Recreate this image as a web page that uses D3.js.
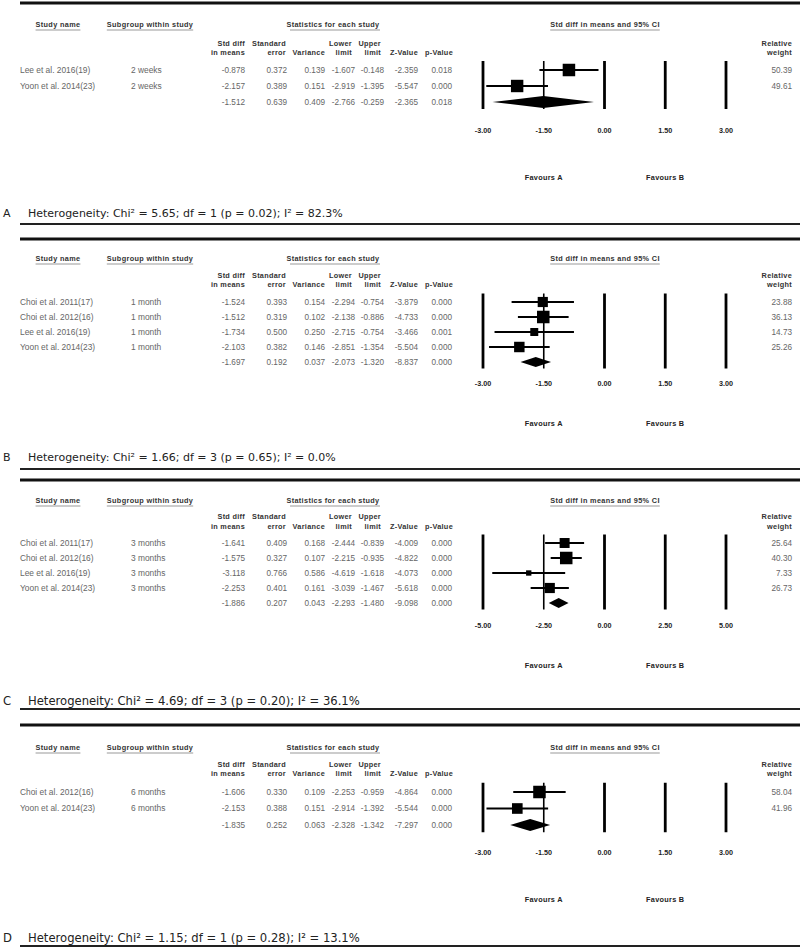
<!DOCTYPE html>
<html><head><meta charset="utf-8">
<script src="https://cdn.jsdelivr.net/npm/d3@7/dist/d3.min.js"></script>
<style>body{margin:0;background:#fff}svg{display:block}</style>
</head><body>
<svg id="chart" width="800" height="948"></svg>
<script>
// ---------------- DATA ----------------
const panelLabels = ["A", "B", "C", "D"];
const studyNames = [
  ["Lee et al. 2016(19)", "Yoon et al. 2014(23)"],
  ["Choi et al. 2011(17)", "Choi et al. 2012(16)", "Lee et al. 2016(19)", "Yoon et al. 2014(23)"],
  ["Choi et al. 2011(17)", "Choi et al. 2012(16)", "Lee et al. 2016(19)", "Yoon et al. 2014(23)"],
  ["Choi et al. 2012(16)", "Yoon et al. 2014(23)"]
];
const subgroups = ["2 weeks", "1 month", "3 months", "6 months"];
// last value of each list = pooled (summary) row
const stdDiff = [
  [-0.878, -2.157, -1.512],
  [-1.524, -1.512, -1.734, -2.103, -1.697],
  [-1.641, -1.575, -3.118, -2.253, -1.886],
  [-1.606, -2.153, -1.835]
];
const stdErr = [
  [0.372, 0.389, 0.639],
  [0.393, 0.319, 0.500, 0.382, 0.192],
  [0.409, 0.327, 0.766, 0.401, 0.207],
  [0.330, 0.388, 0.252]
];
const variance = [
  [0.139, 0.151, 0.409],
  [0.154, 0.102, 0.250, 0.146, 0.037],
  [0.168, 0.107, 0.586, 0.161, 0.043],
  [0.109, 0.151, 0.063]
];
const lowerLimit = [
  [-1.607, -2.919, -2.766],
  [-2.294, -2.138, -2.715, -2.851, -2.073],
  [-2.444, -2.215, -4.619, -3.039, -2.293],
  [-2.253, -2.914, -2.328]
];
const upperLimit = [
  [-0.148, -1.395, -0.259],
  [-0.754, -0.886, -0.754, -1.354, -1.320],
  [-0.839, -0.935, -1.618, -1.467, -1.480],
  [-0.959, -1.392, -1.342]
];
const zValue = [
  [-2.359, -5.547, -2.365],
  [-3.879, -4.733, -3.466, -5.504, -8.837],
  [-4.009, -4.822, -4.073, -5.618, -9.098],
  [-4.864, -5.544, -7.297]
];
const pValue = [
  [0.018, 0.000, 0.018],
  [0.000, 0.000, 0.001, 0.000, 0.000],
  [0.000, 0.000, 0.000, 0.000, 0.000],
  [0.000, 0.000, 0.000]
];
const relWeight = [
  [50.39, 49.61],
  [23.88, 36.13, 14.73, 25.26],
  [25.64, 40.30, 7.33, 26.73],
  [58.04, 41.96]
];
const axisTicks = [
  [-3, -1.5, 0, 1.5, 3],
  [-3, -1.5, 0, 1.5, 3],
  [-5, -2.5, 0, 2.5, 5],
  [-3, -1.5, 0, 1.5, 3]
];
const heterogeneity = [
  "Heterogeneity: Chi² = 5.65; df = 1 (p = 0.02); I² = 82.3%",
  "Heterogeneity: Chi² = 1.66; df = 3 (p = 0.65); I² = 0.0%",
  "Heterogeneity: Chi² = 4.69; df = 3 (p = 0.20); I² = 36.1%",
  "Heterogeneity: Chi² = 1.15; df = 1 (p = 0.28); I² = 13.1%"
];
const favourLabels = ["Favours A", "Favours B"];

// ---------------- LAYOUT ----------------
const layout = [
  {y0: 3,   header: 24,  h1: 43,  h2: 52,  row0: 70,  step: 16,   tickY: 130, favY: 177, hetY: 213, ulY: 224, hetSize: 11,   dia: 12},
  {y0: 239, header: 258, h1: 275, h2: 284, row0: 302, step: 15,   tickY: 383, favY: 423, hetY: 457, ulY: 469, hetSize: 11,   dia: 10},
  {y0: 480, header: 500, h1: 516, h2: 526, row0: 543, step: 15,   tickY: 625, favY: 665, hetY: 701, ulY: 709, hetSize: 11.6, dia: 10},
  {y0: 725, header: 747, h1: 764, h2: 773, row0: 792, step: 16.5, tickY: 852, favY: 899, hetY: 938, ulY: 946, hetSize: 11.6, dia: 12}
];

const locale = d3.formatLocale({decimal: ".", thousands: ",", grouping: [3], currency: ["", ""], minus: "-"});
const f3 = locale.format(".3f"), f2 = locale.format(".2f");

const svg = d3.select("#chart");
const TAB = "'Liberation Sans', Arial, sans-serif";
const HET = "'DejaVu Sans', Verdana, sans-serif";

const columns = [
  {h: ["Std diff", "in means"], hx: 245, x: 245, v: stdDiff},
  {h: ["Standard", "error"], hx: 286, x: 287, v: stdErr},
  {h: ["", "Variance"], hx: 325, x: 325, v: variance},
  {h: ["Lower", "limit"], hx: 352, x: 355, v: lowerLimit},
  {h: ["Upper", "limit"], hx: 381, x: 384, v: upperLimit},
  {h: ["", "Z-Value"], hx: 418, x: 418, v: zValue},
  {h: ["", "p-Value"], hx: 453, x: 452, v: pValue}
];

layout.forEach((L, pi) => {
  const g = svg.append("g");
  const nStudies = studyNames[pi].length;
  const nRows = nStudies + 1;
  const rowY = i => L.row0 + i * L.step;

  // top thick rule
  g.append("line").attr("x1", 20).attr("x2", 800).attr("y1", L.y0).attr("y2", L.y0)
    .attr("stroke", "#111").attr("stroke-width", 3);

  // group headers with underline
  const hdr = [
    {t: "Study name", x: 58},
    {t: "Subgroup within study", x: 150},
    {t: "Statistics for each study", x: 333, ul: [290, 380]},
    {t: "Std diff in means and 95% CI", x: 605}
  ];
  hdr.forEach(h => {
    const t = g.append("text").attr("x", h.x).attr("y", L.header).attr("dy", "0.35em")
      .attr("text-anchor", "middle").attr("font-family", TAB).attr("font-size", 7.3)
      .attr("font-weight", "bold").attr("letter-spacing", 0.35).attr("fill", "#333").text(h.t);
    const w = t.node().getComputedTextLength();
    const x1 = h.ul ? h.ul[0] : h.x - w / 2, x2 = h.ul ? h.ul[1] : h.x + w / 2;
    g.append("line").attr("x1", x1).attr("x2", x2).attr("y1", L.header + 6).attr("y2", L.header + 6)
      .attr("stroke", "#999").attr("stroke-width", 1);
  });

  // column headers
  const colHdr = columns.map(c => ({h: c.h, x: c.hx})).concat([{h: ["Relative", "weight"], x: 792}]);
  colHdr.forEach(c => {
    [L.h1, L.h2].forEach((yy, k) => {
      if (!c.h[k]) return;
      g.append("text").attr("x", c.x).attr("y", yy).attr("dy", "0.35em").attr("text-anchor", "end")
        .attr("font-family", TAB).attr("font-size", 7.3).attr("font-weight", "bold")
        .attr("letter-spacing", 0.3).attr("fill", "#333").text(c.h[k]);
    });
  });

  // study names & subgroups
  studyNames[pi].forEach((s, i) => {
    g.append("text").attr("x", 20).attr("y", rowY(i)).attr("dy", "0.35em")
      .attr("font-family", TAB).attr("font-size", 8.4).attr("fill", "#666").text(s);
    g.append("text").attr("x", 131).attr("y", rowY(i)).attr("dy", "0.35em")
      .attr("font-family", TAB).attr("font-size", 8.4).attr("fill", "#666").text(subgroups[pi]);
  });

  // numeric columns
  columns.forEach(c => {
    c.v[pi].forEach((v, i) => {
      g.append("text").attr("x", c.x).attr("y", rowY(i)).attr("dy", "0.35em").attr("text-anchor", "end")
        .attr("font-family", TAB).attr("font-size", 8.2).attr("fill", "#666").text(f3(v));
    });
  });
  relWeight[pi].forEach((w, i) => {
    g.append("text").attr("x", 792).attr("y", rowY(i)).attr("dy", "0.35em").attr("text-anchor", "end")
      .attr("font-family", TAB).attr("font-size", 8.2).attr("fill", "#666").text(f2(w));
  });

  // forest plot
  const ticks = axisTicks[pi];
  const x = d3.scaleLinear().domain(d3.extent(ticks)).range([483, 726]);
  const yTop = rowY(0) - L.step / 2 - 1, yBot = rowY(nRows - 1) + L.step / 2 - 1;
  ticks.forEach((t, k) => {
    g.append("line").attr("x1", x(t)).attr("x2", x(t)).attr("y1", yTop).attr("y2", yBot)
      .attr("stroke", "#000").attr("stroke-width", k === 1 ? 1.6 : 2.8);
    g.append("text").attr("x", x(t)).attr("y", L.tickY).attr("dy", "0.35em").attr("text-anchor", "middle")
      .attr("font-family", TAB).attr("font-size", 7.2).attr("font-weight", "bold").attr("fill", "#222")
      .text(f2(t));
  });

  const size = d3.scaleSqrt().domain([0, d3.max(relWeight[pi])]).range([0, 12.5]);
  for (let i = 0; i < nStudies; i++) {
    const yy = rowY(i);
    g.append("line").attr("x1", x(lowerLimit[pi][i])).attr("x2", x(upperLimit[pi][i]))
      .attr("y1", yy).attr("y2", yy).attr("stroke", "#000").attr("stroke-width", 2);
    const s = size(relWeight[pi][i]);
    g.append("rect").attr("x", x(stdDiff[pi][i]) - s / 2).attr("y", yy - s / 2)
      .attr("width", s).attr("height", s).attr("fill", "#000");
  }
  // summary diamond
  const sy = rowY(nStudies), hd = L.dia / 2;
  const lo = x(lowerLimit[pi][nStudies]), hi = x(upperLimit[pi][nStudies]), mid = x(stdDiff[pi][nStudies]);
  g.append("path").attr("d", `M${lo},${sy}L${mid},${sy - hd}L${hi},${sy}L${mid},${sy + hd}Z`).attr("fill", "#000");

  // favours labels
  const xmin = d3.min(ticks), xmax = d3.max(ticks);
  [[xmin / 2, favourLabels[0]], [xmax / 2, favourLabels[1]]].forEach(([v, t]) => {
    g.append("text").attr("x", x(v)).attr("y", L.favY).attr("dy", "0.35em").attr("text-anchor", "middle")
      .attr("font-family", TAB).attr("font-size", 7.3).attr("font-weight", "bold")
      .attr("letter-spacing", 0.3).attr("fill", "#222").text(t);
  });

  // panel label + heterogeneity
  g.append("text").attr("x", 3).attr("y", L.hetY).attr("dy", "0.35em")
    .attr("font-family", HET).attr("font-size", L.hetSize).attr("fill", "#222").text(panelLabels[pi]);
  g.append("text").attr("x", 28).attr("y", L.hetY).attr("dy", "0.35em")
    .attr("font-family", HET).attr("font-size", L.hetSize).attr("fill", "#222").text(heterogeneity[pi]);
  g.append("line").attr("x1", 20).attr("x2", 800).attr("y1", L.ulY).attr("y2", L.ulY)
    .attr("stroke", "#222").attr("stroke-width", 2);
});
</script>
</body></html>
